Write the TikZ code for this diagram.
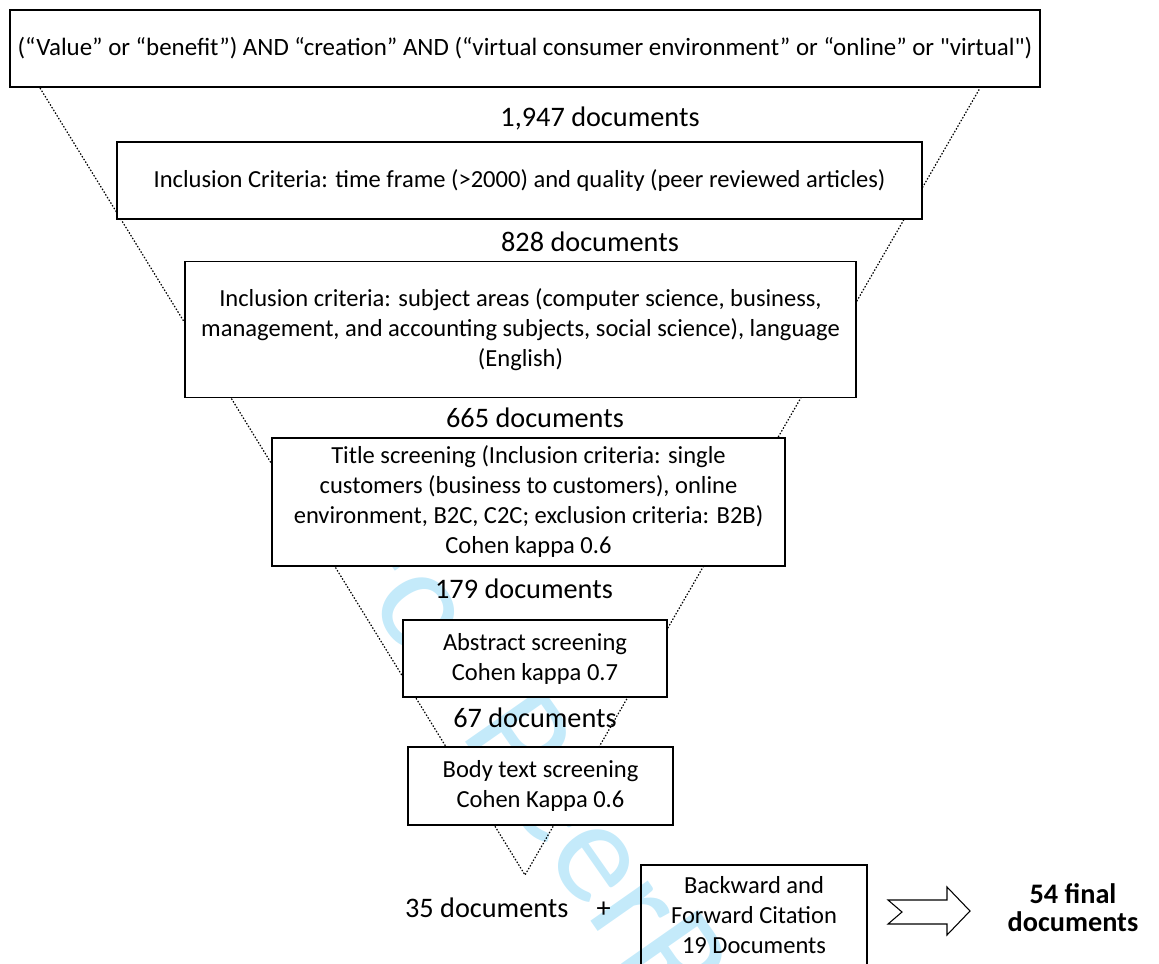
\documentclass[tikz,border=0pt]{standalone}
\usepackage{fontspec}
\setmainfont{Carlito}
\newfontfamily\plainquote{Carlito}[Ligatures=TeXOff]
\usetikzlibrary{backgrounds}
\definecolor{wmark}{RGB}{196,234,250}
\begin{document}
\begin{tikzpicture}[
  x=0.75pt,y=-0.75pt,
  box/.style={draw,fill=white,line width=0.9pt,align=center,inner sep=0pt,
    font=\fontsize{18.4pt}{22.5pt}\selectfont},
  count/.style={font=\fontsize{21.2pt}{25pt}\selectfont},
  funnel/.style={line width=0.9pt,dash pattern=on 1.1pt off 1.3pt},
  blockarrow/.style={draw,fill=white,line width=0.8pt,line join=miter},
  wm/.style={text=wmark,font=\fontsize{110pt}{110pt}\selectfont,rotate=-55,inner sep=0pt},
]
\useasboundingbox (0,0) rectangle (1159,963);
\clip (0,0) rectangle (1159,963);
% search string and filters
\node[box,minimum width=772.5pt,minimum height=57.75pt,
  font=\fontsize{18.7pt}{22pt}\selectfont] (query) at (525,48.5)
  {(“Value” or “benefit”) AND “creation” AND (“virtual consumer environment” or “online” or {\plainquote "virtual"})};
\node[count] (n1947) at (600,118) {1,947 documents};
\node[box,minimum width=603.75pt,minimum height=57.75pt] (time) at (519.5,180.5)
  {Inclusion Criteria: time frame (>2000) and quality (peer reviewed articles)};
\node[count] (n828) at (590,242) {828 documents};
\node[box,minimum width=503.25pt,minimum height=102pt] (subject) at (520.5,329.5)
  {Inclusion criteria: subject areas (computer science, business,\\
   management, and accounting subjects, social science), language\\
   (English)};
\node[count] (n665) at (535,418) {665 documents};
\node[box,minimum width=384.75pt,minimum height=96pt] (title) at (528.5,502)
  {Title screening (Inclusion criteria: single\\
   customers (business to customers), online\\
   environment, B2C, C2C; exclusion criteria: B2B)\\
   Cohen kappa 0.6};
\node[count] (n179) at (524,589) {179 documents};
\node[box,minimum width=198pt,minimum height=57.75pt] (abstract) at (535,658.5)
  {Abstract screening\\Cohen kappa 0.7};
\node[count] (n67) at (535,718) {67 documents};
\node[box,minimum width=198.75pt,minimum height=58.5pt] (body) at (540.5,786)
  {Body text screening\\Cohen Kappa 0.6};
% result
\node[count] (n35) at (508,908) {35 documents\quad+};
\node[box,fill=none,minimum width=169.5pt,minimum height=75pt] (cite) at (754,915)
  {Backward and\\Forward Citation\\19 Documents};
\node[count,align=center,font=\fontsize{21.2pt}{21pt}\selectfont\bfseries] (final) at (1073,908)
  {54 final\\documents};
\coordinate (arrtail) at (888,912);
\draw[blockarrow] (arrtail) ++(0,-12) -- ++(59,0) -- ++(0,-13) -- ++(23,24)
  -- ++(-23,24) -- ++(0,-11) -- ++(-59,0) -- ++(14,-12) -- cycle;
% funnel outline behind the boxes
\coordinate (fl) at (40,88);
\coordinate (fr) at (980,88);
\coordinate (tip) at (525,875);
\begin{scope}[on background layer]
  \coordinate (wmbreak) at (615,955);
  \node[wm,anchor=base east] (wm1) at (wmbreak) {For Peer\ };
  \node[wm,anchor=base west] (wm2) at (wmbreak) {Review};
  \draw[funnel] (fl) -- (tip) -- (fr);
\end{scope}
\end{tikzpicture}
\end{document}
